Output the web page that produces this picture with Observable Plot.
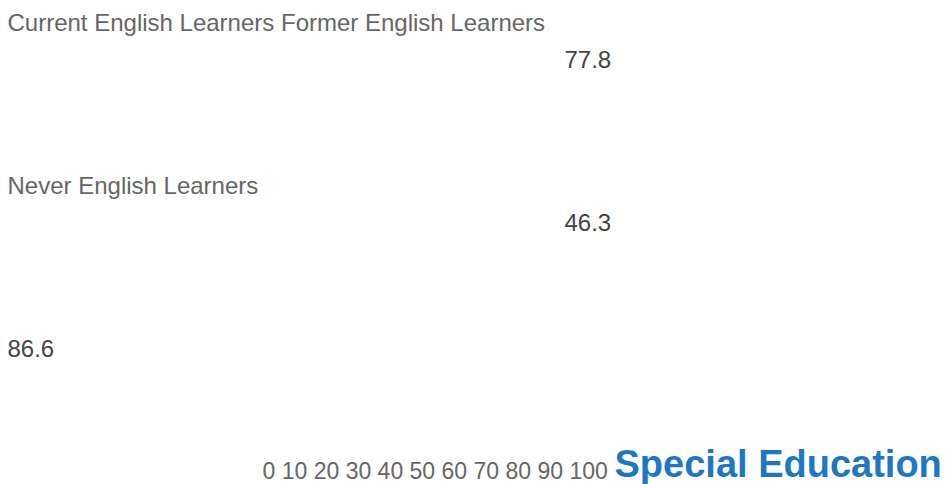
<!DOCTYPE html>
<html>
<head>
<meta charset="utf-8">
<script src="https://cdn.jsdelivr.net/npm/d3@7"></script>
<script src="https://cdn.jsdelivr.net/npm/@observablehq/plot@0.6"></script>
<style>
  html, body { margin: 0; padding: 0; background: #fff; }
  #chart svg { display: block; }
</style>
</head>
<body>
<div id="chart"></div>
<script>
// Data
const categories = ["Current English Learners", "Former English Learners", "Never English Learners"];
const values = [77.8, 46.3, 86.6];
const ticks = [0, 10, 20, 30, 40, 50, 60, 70, 80, 90, 100];
const axisTitle = "Special Education";

// Groups as they appear in the picture
const groups = [0, 1, 2];
const groupLabels = [categories[0] + " " + categories[1], categories[2], ""];
const rows = groups.map(g => ({group: g, label: groupLabels[g], value: values[g]}));

const font = "'Liberation Sans', Arial, Helvetica, sans-serif";

const chart = Plot.plot({
  width: 950,
  height: 484,
  margin: 0,
  style: {fontFamily: font, background: "#fff"},
  y: {type: "band", domain: groups, range: [0, 489], padding: 0, axis: null},
  marks: [
    // category labels
    Plot.text(rows.filter(d => d.label), {
      y: "group", text: "label", frameAnchor: "left", textAnchor: "start",
      lineAnchor: "bottom", dx: 7, dy: -51.5, fontSize: 24, fill: "#666"
    }),
    // values under labelled groups
    Plot.text(rows.filter(d => d.label), {
      y: "group", text: d => d.value.toFixed(1), frameAnchor: "left", textAnchor: "start",
      lineAnchor: "bottom", dx: 564, dy: -14.5, fontSize: 24, fill: "#444"
    }),
    // value in the unlabelled group flows to the left of the line
    Plot.text(rows.filter(d => !d.label), {
      y: "group", text: d => d.value.toFixed(1), frameAnchor: "left", textAnchor: "start",
      lineAnchor: "bottom", dx: 7, dy: -51.5, fontSize: 24, fill: "#444"
    }),
    // tick labels, inline
    Plot.text([ticks.join(" ")], {
      frameAnchor: "bottom-left", textAnchor: "start", lineAnchor: "bottom",
      dx: 262, dy: -6, fontSize: 23, fill: "#666"
    }),
    // axis title
    Plot.text([axisTitle], {
      frameAnchor: "bottom-left", textAnchor: "start", lineAnchor: "bottom",
      dx: 614, dy: -8, fontSize: 38, fontWeight: "bold", fill: "#1f77c3"
    })
  ]
});

document.getElementById("chart").appendChild(chart);
</script>
</body>
</html>
